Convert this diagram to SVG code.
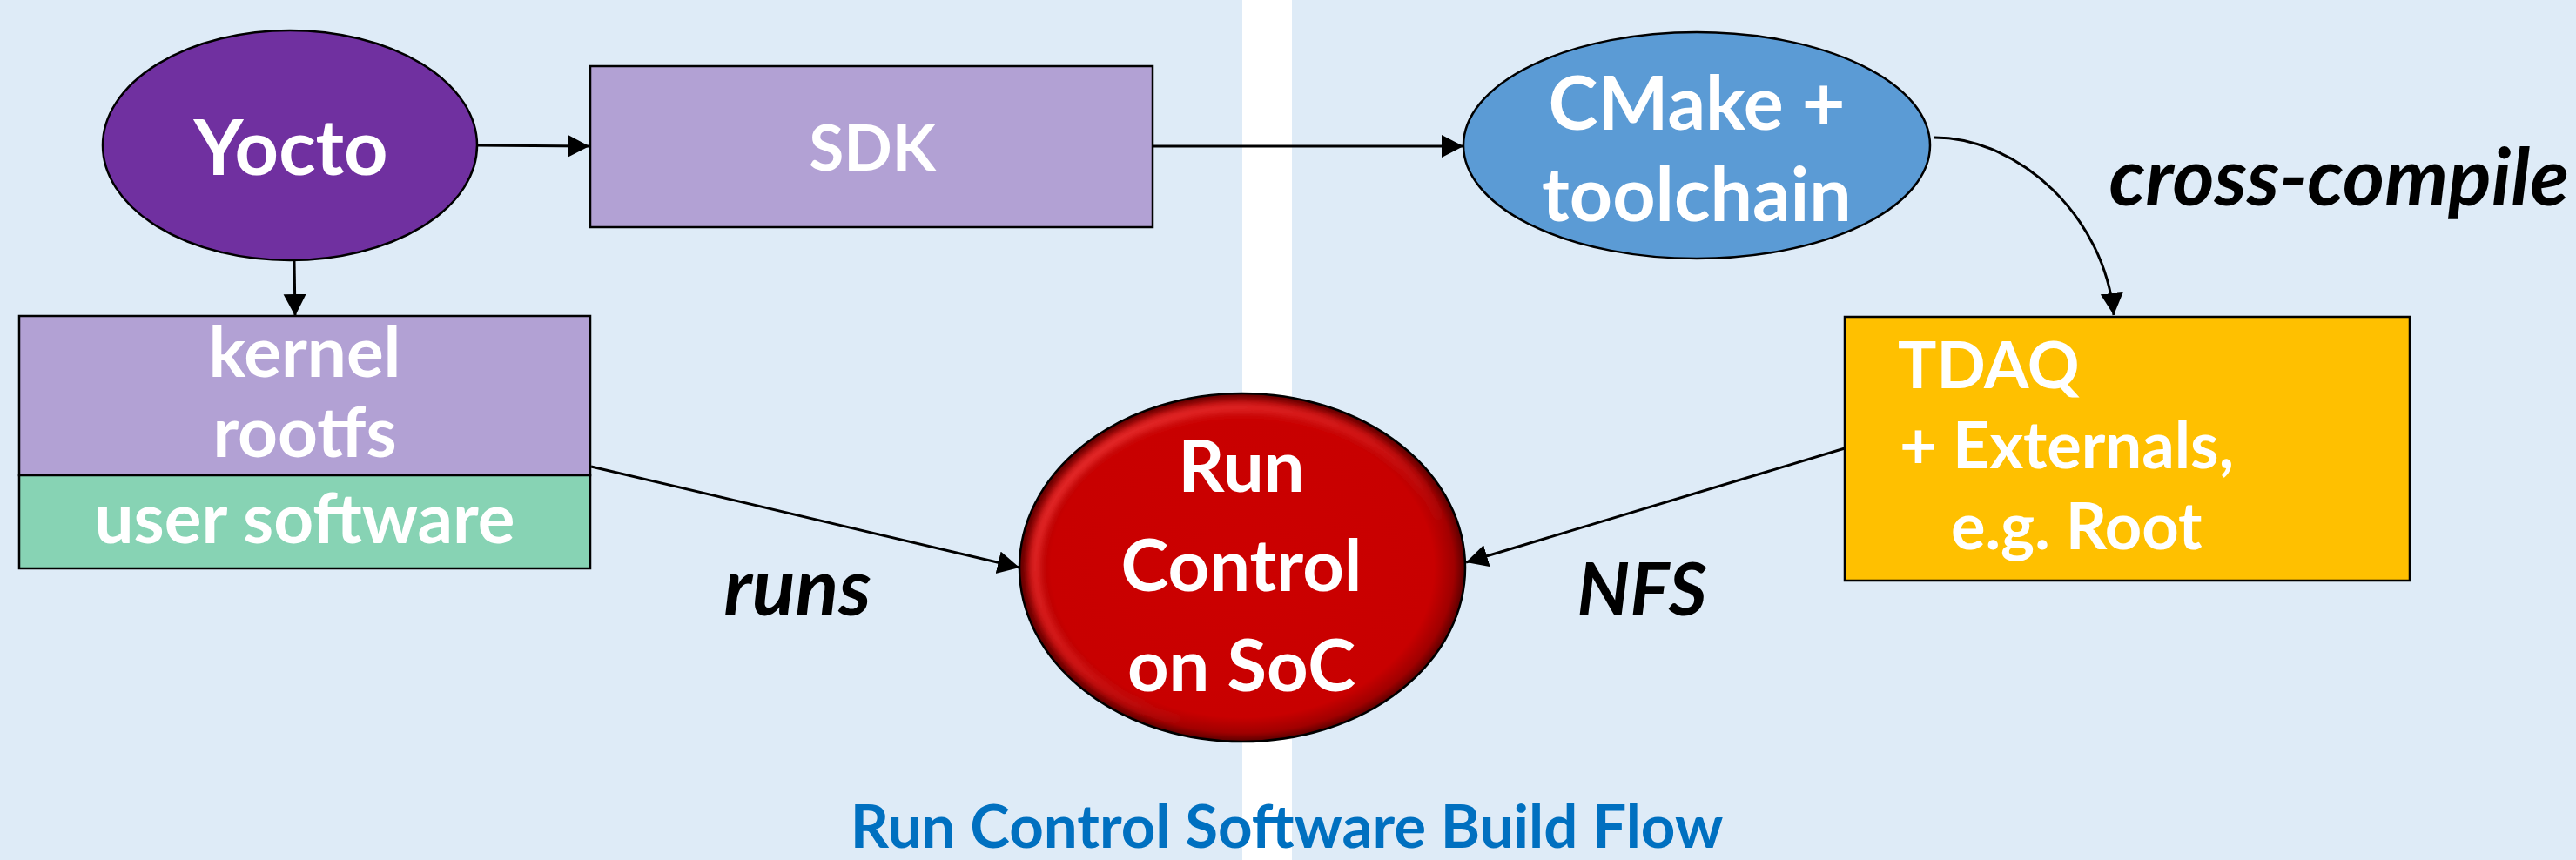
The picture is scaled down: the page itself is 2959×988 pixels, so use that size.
<svg xmlns="http://www.w3.org/2000/svg" width="2959" height="988" viewBox="0 0 2959 988">
<defs>
<style>
.node{stroke:#000;stroke-width:2.5}
.lbl{font-family:Lato,"Liberation Sans",sans-serif;font-weight:bold;fill:#fff;text-anchor:middle}
.lbls{font-family:Lato,"Liberation Sans",sans-serif;font-weight:bold;fill:#fff;text-anchor:start}
.edge{fill:none;stroke:#000;stroke-width:3}
.elbl{font-family:Lato,"Liberation Sans",sans-serif;font-weight:bold;font-style:italic;fill:#000}
</style>
<marker id="ah" markerUnits="userSpaceOnUse" markerWidth="28" markerHeight="28" refX="25" refY="13" orient="auto">
<path d="M0,0 L25,13 L0,26 Z" fill="#000"/>
</marker>
<radialGradient id="redg" cx="0.5" cy="0.5" r="0.5">
<stop offset="0" stop-color="#CC0000"/>
<stop offset="0.86" stop-color="#C80000"/>
<stop offset="0.95" stop-color="#A00000"/>
<stop offset="1" stop-color="#5A0000"/>
</radialGradient>
<linearGradient id="hl" x1="0" y1="0" x2="1" y2="1">
<stop offset="0" stop-color="#FF4040" stop-opacity="0.9"/>
<stop offset="0.45" stop-color="#FF3030" stop-opacity="0.5"/>
<stop offset="0.7" stop-color="#FF3030" stop-opacity="0"/>
</linearGradient>
<filter id="blur" x="-0.1" y="-0.1" width="1.2" height="1.2"><feGaussianBlur stdDeviation="5"/></filter>
</defs>
<rect x="0" y="0" width="2959" height="988" fill="#DEEBF7"/>
<rect x="1427" y="0" width="57" height="988" fill="#FFFFFF"/>

<g id="connectors">
<line class="edge" x1="548" y1="167" x2="677" y2="168" marker-end="url(#ah)"/>
<line class="edge" x1="338" y1="300" x2="339" y2="363" marker-end="url(#ah)"/>
<line class="edge" x1="1324" y1="168" x2="1681" y2="168" marker-end="url(#ah)"/>
<path class="edge" d="M2222,158 C2320,158 2418,250 2428,362" marker-end="url(#ah)"/>
<line class="edge" x1="679" y1="536" x2="1171" y2="652" marker-end="url(#ah)"/>
<line class="edge" x1="2119" y1="515" x2="1684" y2="646" marker-end="url(#ah)"/>
<text class="elbl" x="2951" y="236" font-size="92" text-anchor="end">cross-compile</text>
<text class="elbl" x="916" y="707" font-size="92" text-anchor="middle">runs</text>
<text class="elbl" x="1886" y="707" font-size="85" text-anchor="middle">NFS</text>
</g>

<g id="yocto">
<ellipse class="node" cx="333" cy="167" rx="215" ry="132" fill="#7030A0"/>
<text class="lbl" x="334" y="201" font-size="88">Yocto</text>
</g>

<g id="sdk">
<rect class="node" x="678" y="76" width="646" height="185" fill="#B2A1D4"/>
<text class="lbl" x="1002" y="196" font-size="73">SDK</text>
</g>

<g id="cmake">
<ellipse class="node" cx="1949" cy="167" rx="268" ry="130" fill="#5B9BD5"/>
<text class="lbl" x="1949" y="149" font-size="86">CMake +</text>
<text class="lbl" x="1949" y="254" font-size="86">toolchain</text>
</g>

<g id="kernel">
<rect class="node" x="22" y="363" width="656" height="183" fill="#B2A1D4"/>
<text class="lbl" x="350" y="433" font-size="80">kernel</text>
<text class="lbl" x="350" y="525" font-size="80">rootfs</text>
</g>

<g id="usersw">
<rect class="node" x="22" y="546" width="656" height="107" fill="#87D3B4"/>
<text class="lbl" x="350" y="624" font-size="80">user software</text>
</g>

<g id="tdaq">
<rect class="node" x="2119" y="364" width="649" height="303" fill="#FFC000"/>
<text class="lbls" x="2180" y="446" font-size="74">TDAQ</text>
<text class="lbls" x="2182" y="538" font-size="74">+ Externals,</text>
<text class="lbls" x="2241" y="631" font-size="74">e.g. Root</text>
</g>

<g id="runcontrol">
<ellipse class="node" cx="1427" cy="652" rx="256" ry="200" fill="url(#redg)"/>
<ellipse cx="1427" cy="652" rx="238" ry="184" fill="none" stroke="url(#hl)" stroke-width="12" filter="url(#blur)"/>
<text class="lbl" x="1426" y="565" font-size="83">Run</text>
<text class="lbl" x="1426" y="679" font-size="83">Control</text>
<text class="lbl" x="1426" y="794" font-size="83">on SoC</text>
</g>

<g id="title">
<text x="1478" y="974" font-family="Lato,'Liberation Sans',sans-serif" font-weight="bold" font-size="69" fill="#0070C0" text-anchor="middle">Run Control Software Build Flow</text>
</g>
</svg>
